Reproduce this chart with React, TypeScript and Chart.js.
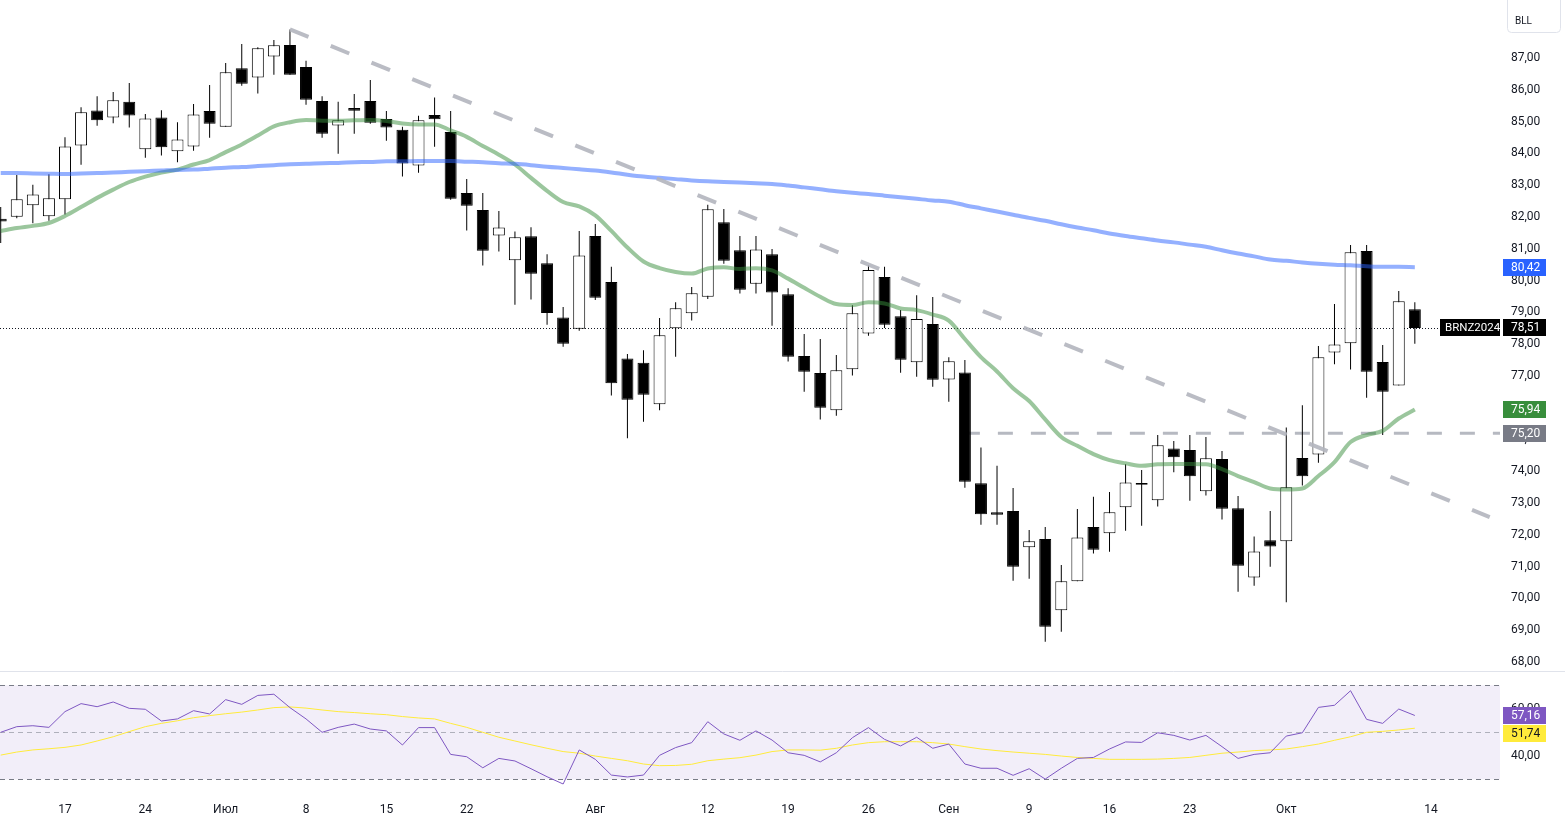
import React, { useEffect, useRef } from 'react';
import { Chart, registerables } from 'chart.js';

Chart.register(...registerables);

// ---- Data (BRNZ2024, daily) ----
const openP = [81.94, 82.01, 82.37, 82.02, 82.56, 84.25, 85.35, 85.13, 85.62, 84.13, 85.13, 84.07, 84.22, 85.33, 84.84, 86.68, 86.39, 87.05, 87.41, 86.72, 85.65, 84.88, 85.43, 85.65, 85.08, 84.74, 83.62, 85.21, 84.67, 82.75, 82.22, 81.42, 80.64, 81.39, 80.54, 78.84, 78.48, 81.40, 79.95, 77.55, 77.41, 76.11, 78.50, 78.97, 79.49, 81.83, 80.95, 79.90, 80.83, 79.57, 77.63, 77.09, 75.92, 77.21, 78.33, 80.11, 78.88, 77.43, 78.63, 76.89, 77.11, 73.62, 72.71, 72.75, 71.61, 71.87, 69.63, 70.54, 72.25, 72.05, 72.87, 73.63, 73.09, 74.72, 74.67, 73.37, 74.39, 72.84, 70.66, 71.83, 71.80, 74.42, 74.53, 77.74, 78.03, 80.93, 77.44, 76.70, 79.10];
const highP = [82.31, 83.32, 83.01, 83.34, 84.51, 85.45, 85.80, 85.93, 86.21, 85.24, 85.36, 84.98, 85.55, 86.15, 86.84, 87.44, 87.34, 87.57, 87.90, 86.91, 85.80, 85.62, 85.87, 86.31, 85.33, 84.84, 85.18, 85.76, 85.33, 83.19, 82.75, 82.19, 81.54, 81.68, 80.83, 79.17, 81.56, 81.78, 80.43, 77.69, 77.81, 78.82, 79.32, 79.80, 82.38, 82.25, 81.40, 81.40, 80.99, 79.76, 78.32, 78.16, 77.66, 79.22, 80.49, 80.43, 79.07, 79.54, 79.48, 77.59, 77.50, 74.75, 74.17, 73.47, 72.15, 72.25, 71.05, 72.81, 73.20, 73.35, 74.22, 74.04, 75.14, 74.95, 75.14, 75.08, 74.64, 73.22, 71.95, 72.75, 75.38, 76.08, 77.94, 79.26, 81.12, 81.12, 77.97, 79.67, 79.32];
const lowP = [81.18, 81.96, 81.80, 81.88, 82.08, 83.64, 84.87, 84.95, 84.81, 83.86, 83.93, 83.72, 84.08, 84.49, 84.84, 86.13, 85.88, 86.47, 86.47, 85.53, 84.49, 83.99, 84.62, 84.93, 84.40, 83.27, 83.39, 84.21, 82.54, 81.57, 80.47, 80.91, 79.24, 79.40, 78.61, 77.92, 78.42, 79.39, 76.38, 75.04, 75.56, 75.92, 77.60, 78.74, 79.42, 80.53, 79.59, 79.59, 78.58, 77.45, 76.50, 75.63, 75.75, 77.01, 78.26, 78.51, 77.10, 76.97, 76.66, 76.19, 73.48, 72.32, 72.32, 70.56, 70.62, 68.64, 68.95, 70.54, 71.41, 71.47, 72.13, 72.29, 72.89, 73.97, 73.07, 73.24, 72.48, 70.21, 70.40, 71.00, 69.88, 73.55, 74.27, 77.37, 77.20, 76.31, 75.14, 76.70, 78.01];
const closeP = [81.86, 82.56, 82.71, 82.59, 84.22, 85.29, 85.04, 85.67, 85.19, 85.10, 84.19, 84.44, 85.22, 84.93, 86.55, 86.19, 87.31, 87.40, 86.47, 85.69, 84.62, 85.04, 85.34, 84.96, 84.81, 83.68, 85.04, 85.07, 82.57, 82.35, 80.94, 81.67, 81.36, 80.21, 78.98, 78.01, 80.79, 79.46, 76.77, 76.25, 76.41, 78.28, 79.13, 79.60, 82.24, 80.62, 79.71, 80.98, 79.62, 77.60, 77.13, 76.00, 77.18, 78.97, 80.33, 78.61, 77.51, 78.79, 76.88, 77.46, 73.67, 72.65, 72.63, 71.00, 71.80, 69.11, 70.54, 71.92, 71.53, 72.71, 73.65, 73.58, 74.82, 74.44, 73.84, 74.41, 72.82, 71.03, 71.48, 71.63, 73.50, 73.84, 77.59, 77.99, 80.89, 77.13, 76.50, 79.35, 78.51];
const maFast = [81.56, 81.65, 81.72, 81.81, 82.03, 82.31, 82.60, 82.86, 83.10, 83.27, 83.40, 83.49, 83.65, 83.79, 84.04, 84.28, 84.56, 84.85, 84.98, 85.05, 85.03, 85.03, 85.04, 85.05, 85.02, 84.94, 84.91, 84.91, 84.72, 84.52, 84.23, 83.96, 83.65, 83.23, 82.82, 82.47, 82.33, 82.05, 81.56, 81.04, 80.60, 80.39, 80.27, 80.22, 80.38, 80.42, 80.36, 80.39, 80.32, 80.06, 79.77, 79.49, 79.26, 79.23, 79.32, 79.28, 79.12, 79.07, 78.93, 78.74, 78.16, 77.59, 77.14, 76.61, 76.21, 75.63, 75.08, 74.80, 74.54, 74.35, 74.25, 74.17, 74.22, 74.23, 74.23, 74.22, 74.07, 73.85, 73.66, 73.46, 73.43, 73.46, 73.85, 74.29, 74.92, 75.14, 75.27, 75.66, 75.94];
const maSlow = [83.38, 83.38, 83.37, 83.36, 83.35, 83.37, 83.38, 83.40, 83.42, 83.44, 83.46, 83.48, 83.49, 83.52, 83.55, 83.57, 83.60, 83.63, 83.66, 83.67, 83.69, 83.70, 83.72, 83.73, 83.75, 83.75, 83.76, 83.76, 83.76, 83.74, 83.72, 83.69, 83.67, 83.63, 83.58, 83.54, 83.50, 83.46, 83.40, 83.33, 83.27, 83.23, 83.19, 83.15, 83.12, 83.10, 83.08, 83.06, 83.04, 82.99, 82.93, 82.87, 82.81, 82.76, 82.72, 82.67, 82.62, 82.57, 82.52, 82.48, 82.37, 82.27, 82.17, 82.07, 81.97, 81.88, 81.77, 81.67, 81.58, 81.48, 81.40, 81.33, 81.26, 81.20, 81.13, 81.06, 80.95, 80.85, 80.76, 80.66, 80.62, 80.57, 80.53, 80.50, 80.48, 80.45, 80.43, 80.43, 80.42];
const rsiVals = [50.0, 52.4, 52.8, 52.1, 58.8, 62.2, 60.9, 62.9, 60.2, 59.8, 54.8, 55.7, 59.2, 57.8, 63.9, 61.9, 65.7, 66.2, 60.5, 55.7, 50.0, 52.1, 53.5, 51.4, 50.6, 44.6, 52.0, 52.0, 40.6, 39.6, 34.9, 38.9, 37.8, 34.5, 31.1, 28.0, 42.5, 38.5, 31.8, 31.0, 31.8, 40.2, 43.5, 45.6, 54.5, 49.3, 46.6, 50.6, 46.7, 41.3, 40.2, 37.4, 41.3, 47.7, 52.0, 47.0, 44.2, 47.9, 43.2, 45.0, 36.5, 34.7, 34.7, 31.7, 34.5, 30.1, 34.7, 38.9, 39.3, 42.9, 45.9, 45.7, 49.8, 48.7, 46.7, 48.7, 43.9, 38.9, 40.6, 41.3, 48.4, 49.8, 60.6, 61.5, 67.7, 55.5, 53.8, 59.9, 57.16];
const rsiMaVals = [40.3, 41.6, 42.5, 43.0, 43.6, 44.6, 46.3, 48.1, 50.3, 52.4, 53.8, 54.9, 56.2, 57.1, 57.9, 58.6, 59.5, 60.5, 60.8, 60.3, 59.5, 58.8, 58.4, 57.9, 57.5, 56.7, 56.1, 55.7, 53.8, 52.1, 50.0, 47.9, 46.3, 44.7, 43.2, 41.8, 41.1, 39.9, 38.9, 37.9, 36.5, 35.8, 35.9, 36.4, 37.9, 38.6, 39.2, 40.3, 41.8, 42.5, 42.5, 42.4, 43.2, 44.6, 45.6, 46.0, 46.0, 46.0, 45.6, 45.0, 43.9, 42.9, 42.2, 41.6, 41.1, 40.6, 39.9, 39.3, 38.9, 38.5, 38.5, 38.5, 38.6, 38.9, 39.3, 40.2, 41.1, 41.6, 42.2, 42.5, 42.9, 43.9, 45.0, 46.6, 48.1, 50.0, 50.4, 51.0, 51.74];

// drawn lines (bar index, price)
const trendX = [18, 92.66];
const trendY = [87.90, 72.56];
const levelX = [60, 93.3];
const levelValue = 75.20;

// ticks
const xTickIdx = [4, 9, 14, 19, 24, 29, 37, 44, 49, 54, 59, 64, 69, 74, 80, 89];
const xTickLabels = ['17', '24', 'Июл', '8', '15', '22', 'Авг', '12', '19', '26', 'Сен', '9', '16', '23', 'Окт', '14'];
const priceTicks = [68, 69, 70, 71, 72, 73, 74, 75, 76, 77, 78, 79, 80, 81, 82, 83, 84, 85, 86, 87];
const rsiTicks = [40, 60];
const rsiLevels = [70, 50, 30];
const symbol = 'BRNZ2024';
const currency = 'BLL';

const FONT = 'Roboto, "Liberation Sans", sans-serif';
const fmt = (v: number) => v.toFixed(2).replace('.', ',');

const panesPlugin = {
  id: 'panes',
  beforeDatasetsDraw(chart: any) {
    const { ctx, chartArea, scales } = chart;
    const yP = scales.y;
    const yR = scales.yRsi;
    const left = chartArea.left;
    const right = chartArea.right;
    ctx.save();
    const y70 = yR.getPixelForValue(rsiLevels[0]);
    const y50 = yR.getPixelForValue(rsiLevels[1]);
    const y30 = yR.getPixelForValue(rsiLevels[2]);
    ctx.fillStyle = 'rgba(126,87,194,0.1)';
    ctx.fillRect(left, y70, right - left, y30 - y70);
    ctx.lineWidth = 1;
    ctx.setLineDash([5, 4]);
    ctx.strokeStyle = '#787b86';
    [y70, y30].forEach((yy: number) => {
      ctx.beginPath();
      ctx.moveTo(left, Math.round(yy) + 0.5);
      ctx.lineTo(right, Math.round(yy) + 0.5);
      ctx.stroke();
    });
    ctx.strokeStyle = 'rgba(120,123,134,0.55)';
    ctx.beginPath();
    ctx.moveTo(left, Math.round(y50) + 0.5);
    ctx.lineTo(right, Math.round(y50) + 0.5);
    ctx.stroke();
    // pane separator
    ctx.setLineDash([]);
    ctx.strokeStyle = '#e0e3eb';
    ctx.beginPath();
    ctx.moveTo(0, Math.round(yP.bottom) - 0.5);
    ctx.lineTo(chart.width, Math.round(yP.bottom) - 0.5);
    ctx.stroke();
    // last price dotted line
    const yl = Math.round(yP.getPixelForValue(closeP[closeP.length - 1])) + 0.5;
    ctx.setLineDash([1, 2]);
    ctx.strokeStyle = '#131722';
    ctx.beginPath();
    ctx.moveTo(left, yl);
    ctx.lineTo(right - 60, yl);
    ctx.stroke();
    ctx.restore();
  },
  afterDraw(chart: any) {
    const { ctx, scales } = chart;
    const yP = scales.y;
    const yR = scales.yRsi;
    const ax = yP.left;
    const h = 17;
    ctx.save();
    ctx.font = '12px ' + FONT;
    ctx.textBaseline = 'middle';
    ctx.textAlign = 'left';
    const badge = (x: number, yc: number, w: number, bg: string, fg: string, text: string, tx: number) => {
      const top = Math.round(yc - h / 2);
      ctx.fillStyle = bg;
      ctx.fillRect(x, top, w, h);
      ctx.fillStyle = fg;
      ctx.fillText(text, x + tx, top + h / 2 + 0.5);
      return top + h;
    };
    const last = closeP.length - 1;
    badge(ax + 3, yP.getPixelForValue(maSlow[last]), 43, '#2962ff', '#ffffff', fmt(maSlow[last]), 8);
    const yc = yP.getPixelForValue(closeP[last]);
    ctx.font = '11.5px ' + FONT;
    badge(ax - 60, yc, 60, '#000000', '#ffffff', symbol, 5);
    ctx.font = '12px ' + FONT;
    badge(ax + 3, yc, 43, '#000000', '#ffffff', fmt(closeP[last]), 8);
    badge(ax + 3, yP.getPixelForValue(maFast[last]), 43, '#388e3c', '#ffffff', fmt(maFast[last]), 8);
    badge(ax + 3, yP.getPixelForValue(levelValue), 43, '#787b86', '#ffffff', fmt(levelValue), 8);
    const b1 = badge(ax + 3, yR.getPixelForValue(rsiVals[last]), 43, '#7e57c2', '#ffffff', fmt(rsiVals[last]), 8);
    const y2 = Math.max(yR.getPixelForValue(rsiMaVals[last]), b1 + 1 + h / 2);
    badge(ax + 3, y2, 43, '#ffeb3b', '#131722', fmt(rsiMaVals[last]), 8);
    // currency box
    ctx.strokeStyle = '#e0e3eb';
    ctx.lineWidth = 1;
    ctx.beginPath();
    const bx = ax + 7.5, by = -4.5, bw = 53, bh = 37, r = 4;
    ctx.moveTo(bx + r, by);
    ctx.lineTo(bx + bw - r, by);
    ctx.arcTo(bx + bw, by, bx + bw, by + r, r);
    ctx.lineTo(bx + bw, by + bh - r);
    ctx.arcTo(bx + bw, by + bh, bx + bw - r, by + bh, r);
    ctx.lineTo(bx + r, by + bh);
    ctx.arcTo(bx, by + bh, bx, by + bh - r, r);
    ctx.lineTo(bx, by + r);
    ctx.arcTo(bx, by, bx + r, by, r);
    ctx.stroke();
    ctx.font = '10px ' + FONT;
    ctx.fillStyle = '#131722';
    ctx.fillText(currency, ax + 15, 21);
    ctx.restore();
  },
};

export default function App() {
  const ref = useRef<HTMLCanvasElement | null>(null);

  useEffect(() => {
    if (!ref.current) return;
    const idx = closeP.map((_, i) => i);
    const wickData = idx.map((i) => ({ x: i, y: [lowP[i], highP[i]] }));
    const bodyData = idx.map((i) => ({ x: i, y: [openP[i], closeP[i]] }));
    const bodyBg = idx.map((i) => (closeP[i] >= openP[i] ? '#ffffff' : '#000000'));

    const chart = new Chart(ref.current, {
      type: 'bar',
      data: {
        datasets: [
          {
            type: 'line',
            label: 'trend',
            data: trendX.map((x, k) => ({ x, y: trendY[k] })),
            borderColor: 'rgba(178,181,190,0.9)',
            borderWidth: 4,
            borderDash: [20, 24],
            pointRadius: 0,
            yAxisID: 'y',
            order: 0,
          } as any,
          {
            type: 'line',
            label: 'SMA slow',
            data: idx.map((i) => ({ x: i, y: maSlow[i] })),
            borderColor: 'rgba(41,98,255,0.5)',
            borderWidth: 4,
            pointRadius: 0,
            cubicInterpolationMode: 'monotone',
            yAxisID: 'y',
            order: 0,
          } as any,
          {
            type: 'line',
            label: 'SMA fast',
            data: idx.map((i) => ({ x: i, y: maFast[i] })),
            borderColor: 'rgba(56,142,60,0.5)',
            borderWidth: 4,
            pointRadius: 0,
            cubicInterpolationMode: 'monotone',
            yAxisID: 'y',
            order: 0,
          } as any,
          {
            type: 'bar',
            label: 'body',
            data: bodyData,
            backgroundColor: bodyBg,
            borderColor: '#000000',
            borderWidth: 1,
            borderSkipped: false,
            inflateAmount: 0,
            grouped: false,
            barPercentage: 1,
            categoryPercentage: 1,
            maxBarThickness: 12,
            yAxisID: 'y',
            order: 1,
          } as any,
          {
            type: 'bar',
            label: 'wick',
            data: wickData,
            backgroundColor: '#000000',
            borderWidth: 0,
            inflateAmount: 0,
            grouped: false,
            barPercentage: 1,
            categoryPercentage: 1,
            maxBarThickness: 1,
            yAxisID: 'y',
            order: 2,
          } as any,
          {
            type: 'line',
            label: 'level',
            data: levelX.map((x) => ({ x, y: levelValue })),
            borderColor: 'rgba(178,181,190,0.95)',
            borderWidth: 3,
            borderDash: [15, 18],
            pointRadius: 0,
            yAxisID: 'y',
            order: 3,
          } as any,
          {
            type: 'line',
            label: 'RSI',
            data: idx.map((i) => ({ x: i, y: rsiVals[i] })),
            borderColor: '#7e57c2',
            borderWidth: 1,
            pointRadius: 0,
            yAxisID: 'yRsi',
            order: 0,
          } as any,
          {
            type: 'line',
            label: 'RSI MA',
            data: idx.map((i) => ({ x: i, y: rsiMaVals[i] })),
            borderColor: '#ffeb3b',
            borderWidth: 1,
            pointRadius: 0,
            yAxisID: 'yRsi',
            order: 0,
          } as any,
        ],
      },
      options: {
        responsive: false,
        animation: false,
        devicePixelRatio: 1,
        layout: { padding: 0, autoPadding: false } as any,
        plugins: { legend: { display: false }, tooltip: { enabled: false } },
        scales: {
          x: {
            type: 'linear',
            min: -0.044,
            max: 93.3,
            offset: false,
            grid: { display: false },
            border: { display: false },
            afterBuildTicks: (s: any) => {
              s.ticks = xTickIdx.map((v) => ({ value: v }));
            },
            afterFit: (s: any) => {
              s.height = 34;
              s.paddingLeft = 0;
              s.paddingRight = 0;
            },
            ticks: {
              autoSkip: false,
              maxRotation: 0,
              includeBounds: false,
              padding: 5,
              color: '#131722',
              font: { family: FONT, size: 12 },
              callback: (_v: any, i: number) => xTickLabels[i],
            },
          } as any,
          y: {
            type: 'linear',
            position: 'right',
            stack: 'panes',
            stackWeight: 672,
            min: 67.686,
            max: 88.8245,
            grid: { display: false, drawTicks: false },
            border: { display: false },
            afterBuildTicks: (s: any) => {
              s.ticks = priceTicks.map((v) => ({ value: v }));
            },
            afterFit: (s: any) => {
              s.width = 65;
              s.paddingTop = 0;
              s.paddingBottom = 0;
            },
            ticks: {
              includeBounds: false,
              padding: 11,
              color: '#131722',
              font: { family: FONT, size: 12 },
              callback: (v: any) => fmt(Number(v)),
            },
          } as any,
          yRsi: {
            type: 'linear',
            position: 'right',
            stack: 'panes',
            stackWeight: 118,
            min: 25.45,
            max: 75.66,
            grid: { display: false, drawTicks: false },
            border: { display: false },
            afterBuildTicks: (s: any) => {
              s.ticks = rsiTicks.map((v) => ({ value: v }));
            },
            afterFit: (s: any) => {
              s.width = 65;
              s.paddingTop = 0;
              s.paddingBottom = 0;
            },
            ticks: {
              includeBounds: false,
              padding: 11,
              color: '#131722',
              font: { family: FONT, size: 12 },
              callback: (v: any) => fmt(Number(v)),
            },
          } as any,
        },
      },
      plugins: [panesPlugin as any],
    });
    return () => chart.destroy();
  }, []);

  return (
    <div style={{ position: 'fixed', left: 0, top: 0, width: 1565, height: 824, background: '#ffffff' }}>
      <canvas ref={ref} width={1565} height={824} style={{ display: 'block', width: 1565, height: 824 }} />
    </div>
  );
}
